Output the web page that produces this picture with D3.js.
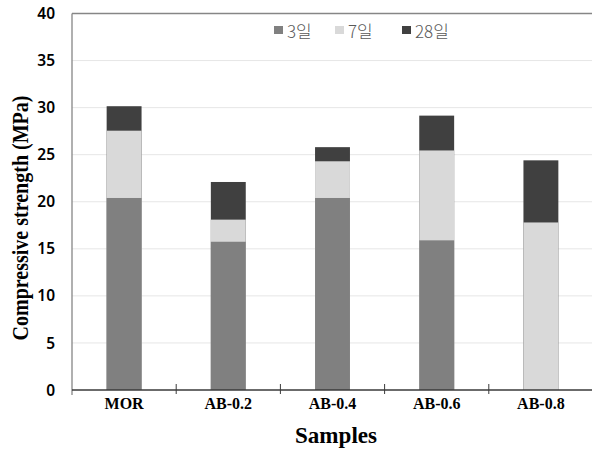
<!DOCTYPE html>
<html>
<head>
<meta charset="utf-8">
<script src="https://cdn.jsdelivr.net/npm/d3@7"></script>
<style>
  body { margin: 0; background: #fff; }
  svg { display: block; }
</style>
</head>
<body>
<svg id="chart" width="592" height="450"></svg>
<script>
// strength at each age (MPa)
const samples = ['MOR', 'AB-0.2', 'AB-0.4', 'AB-0.6', 'AB-0.8'];
const ages = ['3일', '7일', '28일'];
const day3 = [20.4, 15.75, 20.4, 15.9, null];
const day7 = [27.55, 18.1, 24.3, 25.45, 17.8];
const day28 = [30.15, 22.1, 25.8, 29.15, 24.4];
const yTicks = [0, 5, 10, 15, 20, 25, 30, 35, 40];
const colors = ['#808080', '#d9d9d9', '#404040'];

let svg = d3.select('#chart'),
    plotLeft = 72, plotRight = 593, plotTop = 13.5, plotBottom = 390;

let x = d3.scaleBand().domain(samples).range([plotLeft, plotRight]);
let y = d3.scaleLinear().domain([0, 40]).range([plotBottom, plotTop]);

// gridlines
svg.append('g')
    .selectAll('line')
    .data(yTicks.slice(1, -1))
    .enter().append('line')
    .attr('x1', plotLeft).attr('x2', 592)
    .attr('y1', d => y(d)).attr('y2', d => y(d))
    .attr('stroke', '#e6e6e6').attr('stroke-width', 1);

// top border
svg.append('line')
    .attr('x1', plotLeft).attr('x2', 592)
    .attr('y1', y(40)).attr('y2', y(40))
    .attr('stroke', '#868686').attr('stroke-width', 1.3);

// bars: drawn from 0, tallest (28일) at the back
let series = [day28, day7, day3];
let seriesColors = [colors[2], colors[1], colors[0]];
let barW = x.bandwidth() * 0.335;
series.forEach(function (vals, i) {
    svg.append('g')
        .selectAll('rect')
        .data(samples.map((s, j) => ({s: s, v: vals[j]})).filter(d => d.v != null))
        .enter().append('rect')
        .attr('x', d => x(d.s) + x.bandwidth() / 2 - barW / 2)
        .attr('width', barW)
        .attr('y', d => y(d.v))
        .attr('height', d => y(0) - y(d.v))
        .attr('fill', seriesColors[i]);
});

// left axis
svg.append('line')
    .attr('x1', plotLeft).attr('x2', plotLeft)
    .attr('y1', y(40)).attr('y2', plotBottom + 5)
    .attr('stroke', '#868686').attr('stroke-width', 1.3);

// x axis
let xAxis = svg.append('g');
xAxis.append('line')
    .attr('x1', plotLeft).attr('x2', 592)
    .attr('y1', plotBottom).attr('y2', plotBottom)
    .attr('stroke', '#3a3a3a').attr('stroke-width', 1.3);
xAxis.selectAll('line.tick')
    .data(samples.slice(1))
    .enter().append('line')
    .attr('class', 'tick')
    .attr('x1', d => x(d)).attr('x2', d => x(d))
    .attr('y1', plotBottom - 6).attr('y2', plotBottom + 4)
    .attr('stroke', '#3a3a3a').attr('stroke-width', 1);
xAxis.selectAll('text')
    .data(samples)
    .enter().append('text')
    .attr('x', d => x(d) + x.bandwidth() / 2)
    .attr('y', 409)
    .attr('text-anchor', 'middle')
    .attr('font-family', '"Liberation Serif", serif')
    .attr('font-weight', 'bold')
    .attr('font-size', 16)
    .text(d => d);

// y tick labels
svg.append('g')
    .selectAll('text')
    .data(yTicks)
    .enter().append('text')
    .attr('x', 55)
    .attr('y', d => y(d))
    .attr('dy', '0.36em')
    .attr('text-anchor', 'end')
    .attr('font-family', '"Noto Sans", sans-serif')
    .attr('font-weight', 600)
    .attr('font-size', 15.5)
    .attr('fill', '#000')
    .text(d => d);

// axis titles
svg.append('text')
    .attr('transform', 'translate(28,218) rotate(-90)')
    .attr('text-anchor', 'middle')
    .attr('font-family', '"Liberation Serif", serif')
    .attr('font-weight', 'bold')
    .attr('font-size', 22.5)
    .attr('textLength', 245)
    .attr('lengthAdjust', 'spacingAndGlyphs')
    .text('Compressive strength (MPa)');

svg.append('text')
    .attr('x', 336)
    .attr('y', 443)
    .attr('text-anchor', 'middle')
    .attr('font-family', '"Liberation Serif", serif')
    .attr('font-weight', 'bold')
    .attr('font-size', 23.5)
    .attr('textLength', 82)
    .attr('lengthAdjust', 'spacingAndGlyphs')
    .text('Samples');

// legend
let legendX = [274, 335, 402];
let legend = svg.append('g')
    .selectAll('g')
    .data(ages)
    .enter().append('g')
    .attr('transform', (d, i) => 'translate(' + legendX[i] + ',26)');
legend.append('rect')
    .attr('width', 9).attr('height', 8)
    .attr('fill', (d, i) => colors[i]);
legend.append('text')
    .attr('x', 13)
    .attr('y', 12)
    .attr('font-family', '"Noto Sans CJK KR", sans-serif')
    .attr('font-weight', 300)
    .attr('font-size', 17)
    .attr('fill', '#595959')
    .text(d => d);
</script>
</body>
</html>
